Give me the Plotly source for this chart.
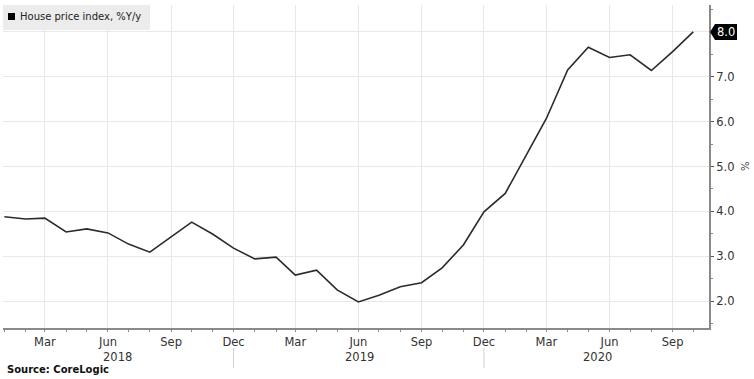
import plotly.graph_objects as go
import pandas as pd

# ---- data ----
months = pd.date_range("2018-01-01", "2020-10-01", freq="MS").strftime("%Y-%m-%d").tolist()
hpi_yoy = [3.88, 3.83, 3.85, 3.54, 3.61, 3.52, 3.27, 3.09, 3.43, 3.76, 3.49, 3.18,
           2.94, 2.98, 2.58, 2.69, 2.25, 1.98, 2.13, 2.32, 2.41, 2.74, 3.25, 3.99,
           4.40, 5.28, 6.07, 7.15, 7.66, 7.43, 7.49, 7.14, 7.56, 8.00]
tick_dates = ["2018-03-01", "2018-06-01", "2018-09-01", "2018-12-01",
              "2019-03-01", "2019-06-01", "2019-09-01", "2019-12-01",
              "2020-03-01", "2020-06-01", "2020-09-01"]
tick_labels = ["Mar", "Jun", "Sep", "Dec"] * 2 + ["Mar", "Jun", "Sep"]
year_labels = ["2018", "2019", "2020"]
year_label_pos = ["2018-06-15", "2019-06-03", "2020-05-14"]
year_sep_dates = ["2018-12-01", "2019-12-01"]
y_ticks = [2, 3, 4, 5, 6, 7, 8]
series_name = "House price index, %Y/y"
source_text = "Source: CoreLogic"

FONT = "DejaVu Sans"
TXT = "#333333"
GRID = "#e8e8e8"
AXIS = "#8a8a8a"

fig = go.Figure()
fig.add_trace(go.Scatter(
    x=months, y=hpi_yoy, mode="lines",
    line=dict(color="#2b2b2b", width=1.6),
    showlegend=False, hoverinfo="x+y",
))

fig.update_layout(
    width=754, height=379,
    margin=dict(l=3, r=45, t=5, b=51),
    paper_bgcolor="white", plot_bgcolor="white",
    font=dict(family=FONT, size=11, color=TXT),
    xaxis=dict(
        type="date",
        range=["2017-12-30", "2020-10-24"],
        tickmode="array", tickvals=tick_dates, ticktext=tick_labels,
        showgrid=True, gridcolor=GRID, gridwidth=1,
        showline=True, linecolor=AXIS, linewidth=2,
        ticks="outside", ticklen=2, tickcolor=AXIS,
        minor=dict(dtick="M1", tick0="2018-01-01", ticks="outside", ticklen=2,
                   tickcolor=AXIS, showgrid=False),
        tickfont=dict(family=FONT, size=11.5, color=TXT),
        zeroline=False, fixedrange=True, automargin=False,
    ),
    yaxis=dict(
        side="right",
        range=[1.4, 8.6],
        tickmode="array", tickvals=y_ticks,
        ticktext=[f"{v:.1f}" for v in y_ticks[:-1]] + [""],
        showgrid=True, gridcolor=GRID, gridwidth=1,
        showline=True, linecolor=AXIS, linewidth=2,
        ticks="outside", ticklen=3, tickcolor="#555555",
        minor=dict(dtick=0.5, tick0=1.5, ticks="outside", ticklen=2,
                   tickcolor=AXIS, showgrid=False),
        tickfont=dict(family=FONT, size=11.5, color=TXT),
        zeroline=False, fixedrange=True, automargin=False,
    ),
)

annotations = []
shapes = []

# year labels
for lab, pos in zip(year_labels, year_label_pos):
    annotations.append(dict(
        x=pos, xref="x", y=0, yref="paper", yshift=-20,
        text=lab, showarrow=False, yanchor="top",
        font=dict(family=FONT, size=11.5, color=TXT),
    ))

# year separators
for d in year_sep_dates:
    shapes.append(dict(
        type="line", xref="x", yref="paper", x0=d, x1=d,
        y0=-20 / 323, y1=-40 / 323,
        line=dict(color="#d0d0d0", width=1),
    ))

# legend box
shapes.append(dict(
    type="rect", xref="paper", yref="paper",
    x0=0, x1=147 / 706, y0=1, y1=1 - 25 / 323,
    fillcolor="#ececec", line=dict(width=0), layer="above",
))
shapes.append(dict(
    type="rect", xref="paper", yref="paper",
    x0=5 / 706, x1=12 / 706, y0=1 - 8 / 323, y1=1 - 15 / 323,
    fillcolor="#000000", line=dict(width=0), layer="above",
))
annotations.append(dict(
    x=15 / 706, xref="paper", y=1 - 12 / 323, yref="paper",
    xanchor="left", yanchor="middle", showarrow=False,
    text=series_name, font=dict(family=FONT, size=10, color="#222222"),
))

# last value tag
last_val = hpi_yoy[-1]
shapes.append(dict(
    type="path", xref="paper", yref="y",
    xanchor=1, yanchor=last_val, xsizemode="pixel", ysizemode="pixel",
    path="M 1 0 L 6 8 L 28 8 L 28 -8 L 6 -8 Z",
    fillcolor="#000000", line=dict(width=0), layer="above",
))
annotations.append(dict(
    x=1, xref="paper", xshift=17, y=last_val, yref="y",
    text=f"{last_val:.1f}", showarrow=False, xanchor="center", yanchor="middle",
    font=dict(family=FONT, size=11.5, color="white"),
))

# % axis title
annotations.append(dict(
    x=1, xref="paper", xshift=35, y=5.0, yref="y",
    text="%", textangle=90, showarrow=False, xanchor="center", yanchor="middle",
    font=dict(family=FONT, size=10, color=TXT),
))

# source
annotations.append(dict(
    x=0, xref="paper", xshift=2, y=0, yref="paper", yshift=-34,
    text=f"<b>{source_text}</b>", showarrow=False, xanchor="left", yanchor="top",
    font=dict(family=FONT, size=10, color="#111111"),
))

fig.update_layout(annotations=annotations, shapes=shapes)
fig.write_html(
    "out.html",
    config={"displayModeBar": False},
    post_script="document.body.style.margin='0';document.body.style.overflow='hidden';",
)
